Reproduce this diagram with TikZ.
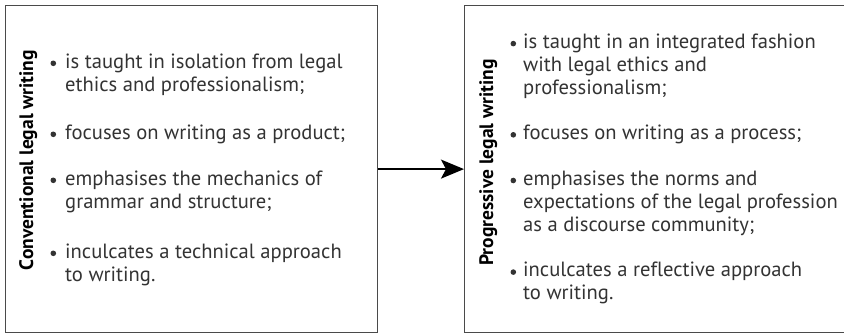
\documentclass[tikz,border=0pt]{standalone}
\usepackage{fontspec}
\setmainfont{PT Sans}[Ligatures=NoCommon]
\usetikzlibrary{arrows.meta}
\definecolor{bodytext}{HTML}{333333}
\definecolor{boxline}{HTML}{4A4A4A}
\newlength\mwid
\newlength\lwid
\begin{document}%
\settowidth\mwid{\fontsize{10}{12}\selectfont focuses on writing as a product;}%
\pgfmathsetmacro\bsz{10*280/\mwid}%
\settowidth\lwid{\fontsize{10}{12}\selectfont\bfseries Conventional legal writing}%
\pgfmathsetmacro\lsz{10*220/\lwid}%
\begin{tikzpicture}[x=1pt,y=-1pt]
\tikzset{
  box/.style={draw=boxline, line width=1.2pt, inner sep=0pt, anchor=north west, minimum height=327pt},
  itemtext/.style={anchor=base west, inner sep=0pt, text=bodytext, font=\fontsize{\bsz}{23}\selectfont},
  sidelabel/.style={rotate=90, anchor=base, inner sep=0pt, text=black, font=\fontsize{\lsz}{18}\selectfont\bfseries},
  bul/.style={fill=bodytext},
  link/.style={draw=black, line width=2pt, -{Stealth[length=23pt,width=19pt,inset=5pt]}}
}
\useasboundingbox (0,0) rectangle (844,335);
% boxes
\node[box, minimum width=372pt] (lbox) at (5,5) {};
\node[box, minimum width=382pt] (rbox) at (464,5) {};
\draw[link] (lbox.east) -- (rbox.west);
% side labels
\node[sidelabel] (llab) at (33,160) {Conventional legal writing};
\node[sidelabel] (rlab) at (493,162.5) {Progressive legal writing};
% left items
\node[itemtext] (i1) at (65,68) {\begin{tabular}[t]{@{}l@{}}is taught in isolation from legal\\ ethics and professionalism;\end{tabular}};
\node[itemtext] (i2) at (65,139) {\begin{tabular}[t]{@{}l@{}}focuses on writing as a product;\end{tabular}};
\node[itemtext] (i3) at (65,185) {\begin{tabular}[t]{@{}l@{}}emphasises the mechanics of\\ grammar and structure;\end{tabular}};
\node[itemtext] (i4) at (65,258) {\begin{tabular}[t]{@{}l@{}}inculcates a technical approach\\ to writing.\end{tabular}};
\foreach \n in {i1,i2,i3,i4}
  \fill[bul] ([shift={(-11.7,-4.7)}]\n.base west) circle (2.8);
% right items
\node[itemtext] (j1) at (523,48.3) {\begin{tabular}[t]{@{}l@{}}is taught in an integrated fashion\\ with legal ethics and\\ professionalism;\end{tabular}};
\node[itemtext] (j2) at (523,139.5) {\begin{tabular}[t]{@{}l@{}}focuses on writing as a process;\end{tabular}};
\node[itemtext] (j3) at (523,185.2) {\begin{tabular}[t]{@{}l@{}}emphasises the norms and\\ expectations of the legal profession\\ as a discourse community;\end{tabular}};
\node[itemtext] (j4) at (523,276.8) {\begin{tabular}[t]{@{}l@{}}inculcates a reflective approach\\ to writing.\end{tabular}};
\foreach \n in {j1,j2,j3,j4}
  \fill[bul] ([shift={(-9.7,-4.7)}]\n.base west) circle (2.8);
\end{tikzpicture}%
\end{document}
